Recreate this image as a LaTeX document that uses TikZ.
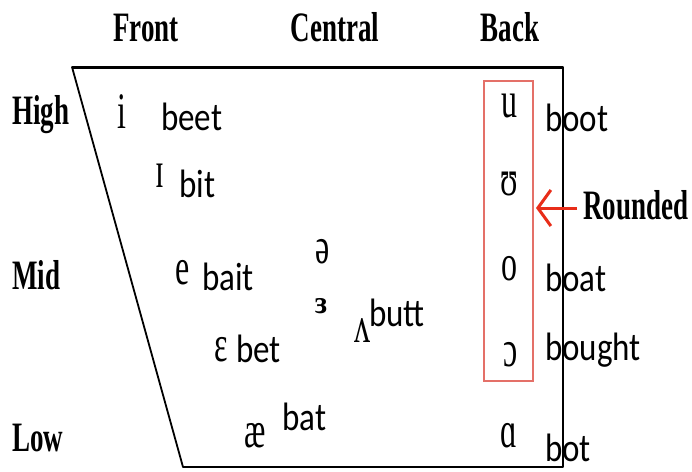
\documentclass[tikz,border=0pt]{standalone}
\usepackage{fontspec}
\setmainfont{Liberation Serif}
\newfontfamily\wordfont{Carlito}
\newfontfamily\ipafont{Liberation Serif}
\usetikzlibrary{arrows.meta}
\definecolor{boxred}{RGB}{228,112,104}
\definecolor{arrred}{RGB}{232,45,25}
\newcommand\headtxt[1]{\scalebox{1}[1.55]{\fontsize{27}{27}\selectfont\bfseries #1}}
\newcommand\wordtxt[1]{\scalebox{1}[1.2]{\fontsize{33}{33}\selectfont\wordfont #1}}
\newcommand\ipatxt[1]{\scalebox{1}[1.6]{\fontsize{32}{32}\selectfont\ipafont #1}}
\tikzset{
  head/.style={anchor=base, inner sep=0pt},
  side/.style={anchor=base west, inner sep=0pt},
  word/.style={anchor=base west, inner sep=0pt},
  ipa/.style={anchor=base, inner sep=0pt},
  edgeline/.style={line width=1.8pt, line cap=round, line join=round},
  topline/.style={line width=3pt},
}
\begin{document}
\begin{tikzpicture}[x=1pt,y=-1pt]
\fill[white] (0,0) rectangle (692,471);
\useasboundingbox (0,0) rectangle (692,471);
% chart outline
\coordinate (tl) at (72,67);
\coordinate (tr) at (563,67);
\coordinate (br) at (563,467);
\coordinate (bl) at (183,467);
\draw[topline] (tl) -- (tr);
\draw[edgeline] (tr) -- (br) -- (bl) -- (tl);
% column headings
\node[head] (front) at (146,41) {\headtxt{Front}};
\node[head] (central) at (335,41) {\headtxt{Central}};
\node[head] (back) at (510,41) {\headtxt{Back}};
% row headings
\node[side] (high) at (12,124) {\headtxt{High}};
\node[side] (mid) at (12,289) {\headtxt{Mid}};
\node[side] (low) at (12,451) {\headtxt{Low}};
% rounded box
\draw[boxred, line width=1.6pt] (484,81) rectangle (533,381);
% front vowels
\node[ipa] (i) at (122,128) {\ipatxt{i}};
\node[word] (beet) at (161,130) {\wordtxt{beet}};
\node[ipa] (I) at (160,187) {\ipatxt{ɪ}};
\node[word] (bit) at (179,197) {\wordtxt{bit}};
\node[ipa] (e) at (183,284) {\ipatxt{e}};
\node[word] (bait) at (202,290) {\wordtxt{bait}};
\node[ipa] (eps) at (221,361) {\ipatxt{ɛ}};
\node[word] (bet) at (236,362) {\wordtxt{bet}};
\node[ipa] (ae) at (255,447) {\ipatxt{æ}};
\node[word] (bat) at (282,430) {\wordtxt{bat}};
% central vowels
\node[ipa] (schwa) at (323,263) {\ipatxt{ə}};
\node[ipa] (revE) at (321,313) {\scalebox{1}[1.1]{\fontsize{29}{29}\selectfont\bfseries ɜ}};
\node[ipa] (wedge) at (362,342) {\ipatxt{ʌ}};
\node[word] (butt) at (369,326) {\wordtxt{butt}};
% back vowels
\node[ipa] (u) at (509,117) {\ipatxt{u}};
\node[word] (boot) at (545,131) {\wordtxt{boot}};
\node[ipa] (U) at (509,195) {\ipatxt{ʊ}};
\node[ipa] (o) at (509,280) {\ipatxt{o}};
\node[word] (boat) at (545,291) {\wordtxt{boat}};
\node[ipa] (oo) at (511,366) {\ipatxt{ɔ}};
\node[word] (bought) at (545,360) {\wordtxt{bought}};
\node[ipa] (a) at (509,447) {\ipatxt{ɑ}};
\node[word] (bot) at (545,461) {\wordtxt{bot}};
% rounded label and arrow
\node[side] (rounded) at (583,219) {\headtxt{Rounded}};
\coordinate (tip) at (536,208);
\draw[arrred, line width=3pt, -{Straight Barb[length=13pt,width=36pt,line width=3pt]}] (rounded.west |- tip) ++(-6,0) -- (tip);
\end{tikzpicture}
\end{document}
